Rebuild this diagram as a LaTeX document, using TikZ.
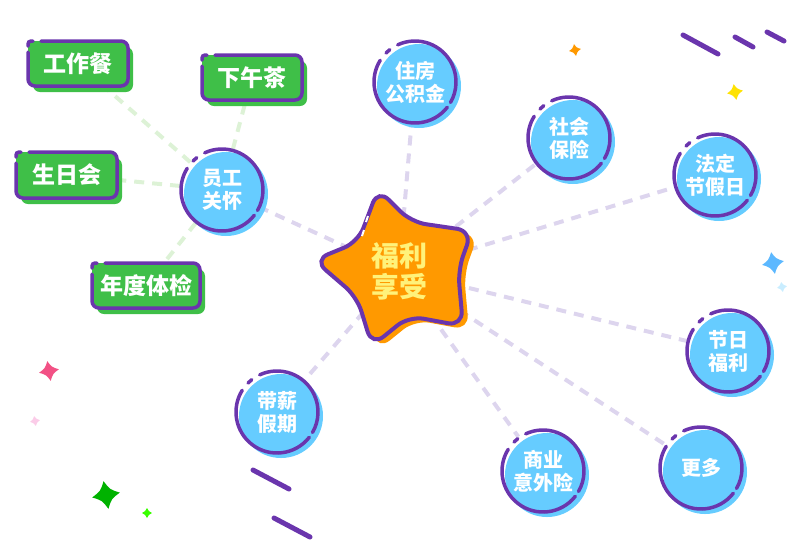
\documentclass[tikz,border=0pt]{standalone}
\usepackage{fontspec}
\newfontfamily\cjk{Noto Sans CJK SC}
\usetikzlibrary{calc}
\pgfdeclarelayer{background}
\pgfsetlayers{background,main}
\definecolor{cpurple}{HTML}{6A35AD}
\definecolor{cblue}{HTML}{66CCFF}
\definecolor{cgreen}{HTML}{3FBF48}
\definecolor{corange}{HTML}{FF9900}
\definecolor{cyellow}{HTML}{FFF27A}
\definecolor{plink}{HTML}{DDD5EE}
\definecolor{glink}{HTML}{DDF2D6}
\tikzset{
 ring/.style={draw=cpurple, line width=3.5pt, line cap=round},
 ctext/.style={circle, minimum size=84pt, inner sep=0pt, align=center, text=white, font=\cjk\bfseries\fontsize{20}{23}\selectfont},
 gtext/.style={rectangle, fill=cgreen, rounded corners=7pt, inner sep=0pt, text=white, font=\cjk\bfseries\fontsize{23}{26}\selectfont},
 plinkst/.style={draw=plink, line width=4pt, dash pattern=on 10pt off 8pt},
 glinkst/.style={draw=glink, line width=4pt, dash pattern=on 10pt off 8pt},
 sparkle/.pic={\fill (0,1) .. controls (0.34,0.34) .. (1,0) .. controls (0.34,-0.34) .. (0,-1) .. controls (-0.34,-0.34) .. (-1,0) .. controls (-0.34,0.34) .. (0,1) -- cycle;},
 deco/.style={draw=cpurple, line width=5pt, line cap=round}
}
\newcommand\cnode[4]{%
 \fill[cblue] ({#2+4},{#3+4}) circle (42);
 \node[ctext] (#1) at (#2,#3) {#4};
 \draw[ring] (#1.center) ++(-115:41) arc[start angle=-115,end angle=30,radius=41];
 \draw[ring] (#1.center) ++(-135:41) arc[start angle=-135,end angle=-128,radius=41];
 \draw[ring] (#1.center) ++(-322:41) arc[start angle=-322,end angle=-148,radius=41];
}
\newcommand\gnode[6]{%
 \fill[cgreen, rounded corners=7pt] ({#2+5},{#3+6}) rectangle ({#4+5},{#5+6});
 \node[gtext, minimum width={#4-#2}, minimum height={#5-#3}] (#1) at ({(#2+#4)/2},{(#3+#5)/2}) {#6};
 \draw[ring, rounded corners=7pt] ({#2+13},#3) -- (#4,#3) -- (#4,#5) -- (#2,#5) -- (#2,{#3+11});
 \draw[ring, rounded corners=3pt] (#2,{#3+5}) -- (#2,#3) -- ({#2+5},#3);
}
\newcommand\starpath{(368,216) -- (378,189) -- (411,222) -- (472,231) -- (458,270) -- (463,326) -- (409,316) -- (372,346) -- (357,297) -- (314,260) -- (358,242) -- cycle}
\begin{document}
\begin{tikzpicture}[x=1pt,y=-1pt]
\useasboundingbox (0,0) rectangle (810,550);
% decorations
\draw[deco] (683,35) -- (718,54);
\draw[deco] (735,37) -- (753,47);
\draw[deco] (767,32) -- (784,41);
\draw[deco] (253,470) -- (289,489);
\draw[deco] (274,518) -- (310,537);
\pic[color=corange, scale=6, rotate=10] at (575,50) {sparkle};
\pic[color=yellow!85!orange, scale=8, rotate=10] at (735,92) {sparkle};
\pic[color=cblue!90!blue, scale=11, rotate=10] at (773,263) {sparkle};
\pic[color=cblue!35, scale=5, rotate=10] at (782,287) {sparkle};
\pic[color=magenta!60!red!70, scale=10, rotate=10] at (49,371) {sparkle};
\pic[color=magenta!20, scale=5, rotate=10] at (35,421) {sparkle};
\pic[color=green!70!black, scale=14, rotate=10] at (106,495) {sparkle};
\pic[color=green!70!lime, scale=5, rotate=0] at (147,513) {sparkle};
% star
\fill[corange, rounded corners=15pt, shift={(6,4)}] \starpath;
\fill[corange, rounded corners=15pt] \starpath;
\draw[ring, line width=4pt, rounded corners=15pt] \starpath;
\draw[white, line width=2pt] (362,236) -- (364,230);
\draw[white, line width=2pt] (366,222) -- (368,216);
\node[text=cyellow, align=center, inner sep=0pt, font=\cjk\bfseries\fontsize{28}{31}\selectfont] (star) at (399,271) {福利\\享受};
% circles
\cnode{ygh}{222}{190}{员工\\关怀}
\cnode{zf}{415}{82}{住房\\公积金}
\cnode{sb}{569}{138}{社会\\保险}
\cnode{fd}{715}{175}{法定\\节假日}
\cnode{jr}{728}{351}{节日\\福利}
\cnode{gd}{701}{468}{更多}
\cnode{sy}{543}{471}{商业\\意外险}
\cnode{dx}{277}{412}{带薪\\假期}
% green boxes
\gnode{gzc}{28}{41}{128}{86}{工作餐}
\gnode{xwc}{202}{55}{302}{100}{下午茶}
\gnode{srh}{16}{152}{117}{198}{生日会}
\gnode{tj}{92}{263}{200}{308}{年度体检}
% connectors
\begin{pgfonlayer}{background}
\foreach \n in {ygh,zf,sb,fd,jr,gd,sy,dx} \draw[plinkst] (star.center) -- (\n);
\foreach \n in {gzc,xwc,srh,tj} \draw[glinkst] (ygh) -- (\n);
\end{pgfonlayer}
\end{tikzpicture}
\end{document}
